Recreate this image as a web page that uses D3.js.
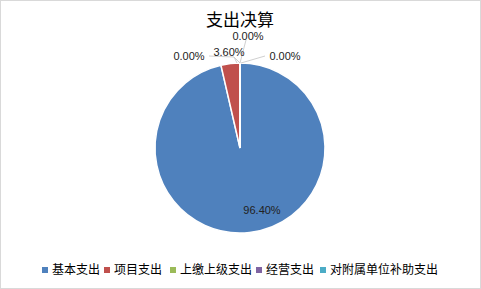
<!DOCTYPE html>
<html><head><meta charset="utf-8">
<script src="https://cdn.jsdelivr.net/npm/d3@7"></script>
<style>
html,body{margin:0;padding:0;background:#fff;}
svg{display:block;font-family:"Liberation Sans","Noto Sans CJK SC",sans-serif;}
</style></head>
<body>
<script>
const title = "支出决算";
const categories = ["基本支出","项目支出","上缴上级支出","经营支出","对附属单位补助支出"];
const values = [96.40, 3.60, 0.00, 0.00, 0.00];
const colors = ["#4F81BD","#C0504D","#9BBB59","#8064A2","#4BACC6"];

const W = 481, H = 289;
const svg = d3.select("body").append("svg").attr("width", W).attr("height", H);
svg.append("rect").attr("x",0.5).attr("y",0.5).attr("width",W-1).attr("height",H-1)
  .attr("fill","#fff").attr("stroke","#d9d9d9");

svg.append("text").attr("x",240).attr("y",26).attr("text-anchor","middle")
  .attr("font-size",17).attr("fill","#000")
  .attr("font-family","'Noto Sans CJK SC',sans-serif").text(title);

const cx = 240, cy = 148, R = 85;
const g = svg.append("g").attr("transform",`translate(${cx},${cy})`);
const pie = d3.pie().sort(null).value(d=>d)(values);
const arc = d3.arc().innerRadius(0).outerRadius(R);
g.selectAll("path").data(pie).join("path")
  .attr("d",arc).attr("fill",(d,i)=>colors[i])
  .attr("stroke","#fff").attr("stroke-width",1.5);

// label placement (layout, per slice index)
const labelPos = [
  {x:22, y:62, lead:null},
  {x:-11, y:-96, lead:[[-3,-85],[-6,-91]]},
  {x:-51, y:-92, lead:[[0,-85],[-6,-91],[-31,-92]]},
  {x:8, y:-112, lead:[[0,-85],[6,-108]]},
  {x:45, y:-92, lead:[[1,-85],[25,-92]]}
];
const fmt = v => v.toFixed(2) + "%";
pie.forEach((d,i)=>{
  const p = labelPos[i];
  if (p.lead) {
    g.append("path").attr("d", d3.line()(p.lead))
      .attr("fill","none").attr("stroke","#d0d0d0").attr("stroke-width",1);
  }
});
pie.forEach((d,i)=>{
  const p = labelPos[i];
  g.append("text").attr("x",p.x).attr("y",p.y).attr("dy","0.35em")
    .attr("text-anchor","middle").attr("font-size",11).attr("fill","#222")
    .text(fmt(values[i]));
});

// legend
const legendX = [42, 104, 170, 256, 320];
const leg = svg.append("g");
categories.forEach((c,i)=>{
  leg.append("rect").attr("x",legendX[i]).attr("y",267).attr("width",6).attr("height",6).attr("fill",colors[i]);
  leg.append("text").attr("x",legendX[i]+10).attr("y",270).attr("dy","0.35em")
    .attr("font-size",12).attr("fill","#000")
    .attr("font-family","'Noto Sans CJK SC',sans-serif").text(c);
});
</script>
</body></html>
